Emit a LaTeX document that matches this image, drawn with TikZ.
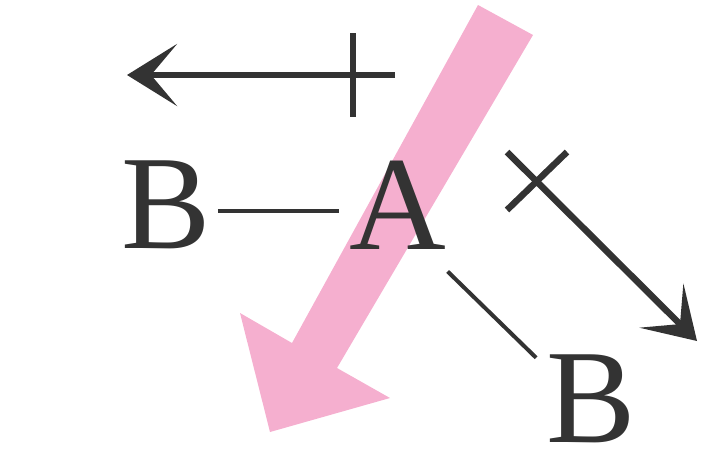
\documentclass[tikz,border=0pt]{standalone}
\usepackage{fontspec}
\setmainfont{Liberation Serif}
\usetikzlibrary{positioning,arrows.meta}
\definecolor{Ink}{HTML}{333333}
\definecolor{Blush}{HTML}{F5AFCF}

\begin{document}
\begin{tikzpicture}[x=1pt, y=-1pt,
  atom/.style={inner sep=0pt, text=Ink, font=\fontsize{134}{140}\selectfont},
  bond/.style={draw=Ink, line width=4pt},
  pusharrow/.style={draw=Ink, line width=6.5pt, -{Stealth[length=50pt, width=62pt, inset=26pt]}},
  tickmark/.style={draw=Ink, line width=6.5pt}]
\useasboundingbox (0,0) rectangle (711,456);
% big pink arrow behind the atoms
\fill[Blush] (478,5) -- (533,35) -- (337,368) -- (390,398) -- (270,432) -- (240,313) -- (292,343) -- cycle;
% atoms
\node[atom] (a) at (398,205) {A};
\node[atom] (bl) at (166,205) {B};
\node[atom] (br) at (591,399) {B};
% bonds
\draw[bond] ([xshift=7pt, yshift=-6pt]bl.east) -- ([xshift=-10pt, yshift=-6pt]a.west);
\draw[bond] ([xshift=1pt, yshift=-22pt]a.south east) -- ([xshift=-10pt, yshift=-3pt]br.north west);
% arrow over the top
\coordinate (topstart) at (395,75);
\coordinate (topend) at (127,75);
\coordinate (topcut1) at (353,33);
\coordinate (topcut2) at (353,117);
\draw[pusharrow] (topstart) -- (topend);
\draw[tickmark] (topcut1) -- (topcut2);
% arrow on the right
\coordinate (diagstart) at (507,152);
\coordinate (diagend) at (697,341);
\coordinate (diagcut1) at (567,152);
\coordinate (diagcut2) at (507,210);
\draw[pusharrow] (diagstart) -- (diagend);
\draw[tickmark] (diagcut1) -- (diagcut2);
\end{tikzpicture}
\end{document}
